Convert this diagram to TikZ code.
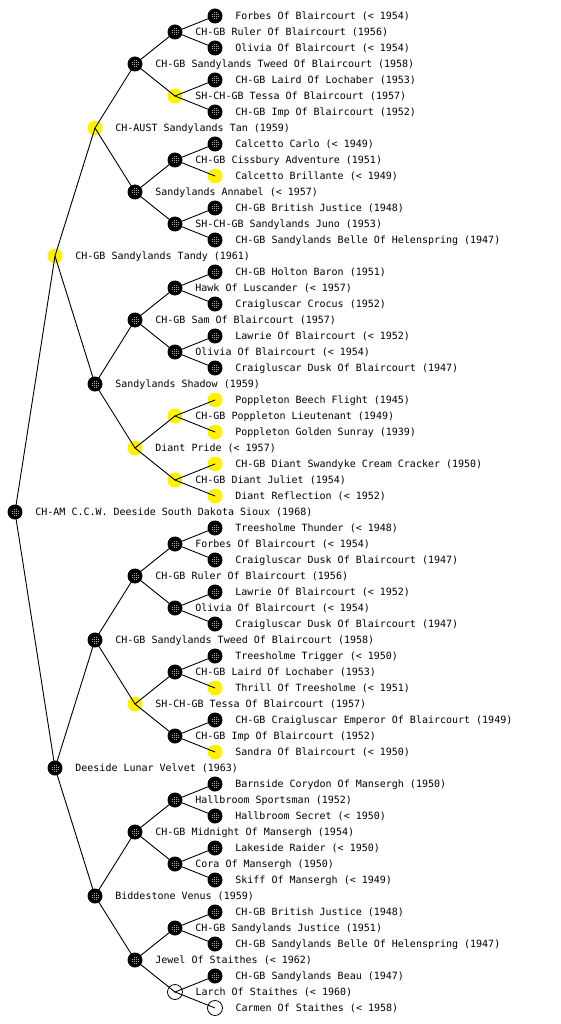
\documentclass[tikz,border=0pt]{standalone}
\usepackage{fontspec}
\newfontfamily\monofont{DejaVu Sans Mono}
\pgfdeclarelayer{bg}
\pgfdeclarelayer{mid}
\pgfsetlayers{bg,mid,main}
\tikzset{
  lbl/.style={font=\monofont\fontsize{10}{12}\selectfont, inner sep=0pt, text height=7.3pt, text depth=0pt, anchor=west, xshift=12.5pt},
  pnode/.style={circle, minimum size=15pt, inner sep=0pt, label={[lbl]right:#1}},
  bk/.style={pnode={#1}, fill=black,
    path picture={
      \foreach \dx/\dy in {-1/-1,1/-1,-1/1,1/1,-3/-1,-3/1,3/-1,3/1,-1/-3,1/-3,-1/3,1/3}
        \fill[gray!60] ([shift={(\dx pt-0.5pt,\dy pt-0.5pt)}]path picture bounding box.center) rectangle +(1pt,1pt);
    }},
  yl/.style={pnode={#1}, fill=yellow},
  wh/.style={pnode={#1}, draw=black, fill=white, line width=0.8pt},
  edge/.style={draw=black, line width=0.9pt}
}
\begin{document}
\begin{tikzpicture}[x=1pt,y=-1pt]
\useasboundingbox (0,0) rectangle (560,1024);
% black nodes
\node[bk={Forbes Of Blaircourt (< 1954)}] (n16) at (215,16) {};
\node[bk={CH-GB Ruler Of Blaircourt (1956)}] (n32) at (175,32) {};
\node[bk={Olivia Of Blaircourt (< 1954)}] (n48) at (215,48) {};
\node[bk={CH-GB Sandylands Tweed Of Blaircourt (1958)}] (n64) at (135,64) {};
\node[bk={CH-GB Laird Of Lochaber (1953)}] (n80) at (215,80) {};
\node[bk={CH-GB Imp Of Blaircourt (1952)}] (n112) at (215,112) {};
\node[bk={Calcetto Carlo (< 1949)}] (n144) at (215,144) {};
\node[bk={CH-GB Cissbury Adventure (1951)}] (n160) at (175,160) {};
\node[bk={Sandylands Annabel (< 1957)}] (n192) at (135,192) {};
\node[bk={CH-GB British Justice (1948)}] (n208) at (215,208) {};
\node[bk={SH-CH-GB Sandylands Juno (1953)}] (n224) at (175,224) {};
\node[bk={CH-GB Sandylands Belle Of Helenspring (1947)}] (n240) at (215,240) {};
\node[bk={CH-GB Holton Baron (1951)}] (n272) at (215,272) {};
\node[bk={Hawk Of Luscander (< 1957)}] (n288) at (175,288) {};
\node[bk={Craigluscar Crocus (1952)}] (n304) at (215,304) {};
\node[bk={CH-GB Sam Of Blaircourt (1957)}] (n320) at (135,320) {};
\node[bk={Lawrie Of Blaircourt (< 1952)}] (n336) at (215,336) {};
\node[bk={Olivia Of Blaircourt (< 1954)}] (n352) at (175,352) {};
\node[bk={Craigluscar Dusk Of Blaircourt (1947)}] (n368) at (215,368) {};
\node[bk={Sandylands Shadow (1959)}] (n384) at (95,384) {};
\node[bk={CH-AM C.C.W. Deeside South Dakota Sioux (1968)}] (n512) at (15,512) {};
\node[bk={Treesholme Thunder (< 1948)}] (n528) at (215,528) {};
\node[bk={Forbes Of Blaircourt (< 1954)}] (n544) at (175,544) {};
\node[bk={Craigluscar Dusk Of Blaircourt (1947)}] (n560) at (215,560) {};
\node[bk={CH-GB Ruler Of Blaircourt (1956)}] (n576) at (135,576) {};
\node[bk={Lawrie Of Blaircourt (< 1952)}] (n592) at (215,592) {};
\node[bk={Olivia Of Blaircourt (< 1954)}] (n608) at (175,608) {};
\node[bk={Craigluscar Dusk Of Blaircourt (1947)}] (n624) at (215,624) {};
\node[bk={CH-GB Sandylands Tweed Of Blaircourt (1958)}] (n640) at (95,640) {};
\node[bk={Treesholme Trigger (< 1950)}] (n656) at (215,656) {};
\node[bk={CH-GB Laird Of Lochaber (1953)}] (n672) at (175,672) {};
\node[bk={CH-GB Craigluscar Emperor Of Blaircourt (1949)}] (n720) at (215,720) {};
\node[bk={CH-GB Imp Of Blaircourt (1952)}] (n736) at (175,736) {};
\node[bk={Deeside Lunar Velvet (1963)}] (n768) at (55,768) {};
\node[bk={Barnside Corydon Of Mansergh (1950)}] (n784) at (215,784) {};
\node[bk={Hallbroom Sportsman (1952)}] (n800) at (175,800) {};
\node[bk={Hallbroom Secret (< 1950)}] (n816) at (215,816) {};
\node[bk={CH-GB Midnight Of Mansergh (1954)}] (n832) at (135,832) {};
\node[bk={Lakeside Raider (< 1950)}] (n848) at (215,848) {};
\node[bk={Cora Of Mansergh (1950)}] (n864) at (175,864) {};
\node[bk={Skiff Of Mansergh (< 1949)}] (n880) at (215,880) {};
\node[bk={Biddestone Venus (1959)}] (n896) at (95,896) {};
\node[bk={CH-GB British Justice (1948)}] (n912) at (215,912) {};
\node[bk={CH-GB Sandylands Justice (1951)}] (n928) at (175,928) {};
\node[bk={CH-GB Sandylands Belle Of Helenspring (1947)}] (n944) at (215,944) {};
\node[bk={Jewel Of Staithes (< 1962)}] (n960) at (135,960) {};
\node[bk={CH-GB Sandylands Beau (1947)}] (n976) at (215,976) {};
% yellow and white nodes
\begin{pgfonlayer}{bg}
\node[yl={SH-CH-GB Tessa Of Blaircourt (1957)}] (n96) at (175,96) {};
\node[yl={CH-AUST Sandylands Tan (1959)}] (n128) at (95,128) {};
\node[yl={Calcetto Brillante (< 1949)}] (n176) at (215,176) {};
\node[yl={CH-GB Sandylands Tandy (1961)}] (n256) at (55,256) {};
\node[yl={Poppleton Beech Flight (1945)}] (n400) at (215,400) {};
\node[yl={CH-GB Poppleton Lieutenant (1949)}] (n416) at (175,416) {};
\node[yl={Poppleton Golden Sunray (1939)}] (n432) at (215,432) {};
\node[yl={Diant Pride (< 1957)}] (n448) at (135,448) {};
\node[yl={CH-GB Diant Swandyke Cream Cracker (1950)}] (n464) at (215,464) {};
\node[yl={CH-GB Diant Juliet (1954)}] (n480) at (175,480) {};
\node[yl={Diant Reflection (< 1952)}] (n496) at (215,496) {};
\node[yl={Thrill Of Treesholme (< 1951)}] (n688) at (215,688) {};
\node[yl={SH-CH-GB Tessa Of Blaircourt (1957)}] (n704) at (135,704) {};
\node[yl={Sandra Of Blaircourt (< 1950)}] (n752) at (215,752) {};
\node[wh={Larch Of Staithes (< 1960)}] (n992) at (175,992) {};
\node[wh={Carmen Of Staithes (< 1958)}] (n1008) at (215,1008) {};
\end{pgfonlayer}
% connectors
\begin{pgfonlayer}{mid}
\foreach \y/\d in {32/16,96/16,160/16,224/16,288/16,352/16,416/16,480/16,544/16,608/16,672/16,736/16,800/16,864/16,928/16,992/16,
                   64/32,192/32,320/32,448/32,576/32,704/32,832/32,960/32,
                   128/64,384/64,640/64,896/64,
                   256/128,768/128,512/256}{
  \pgfmathtruncatemacro\ya{\y-\d}
  \pgfmathtruncatemacro\yb{\y+\d}
  \draw[edge] (n\ya.center) -- (n\y.center) -- (n\yb.center);
}
\end{pgfonlayer}
\end{tikzpicture}
\end{document}
